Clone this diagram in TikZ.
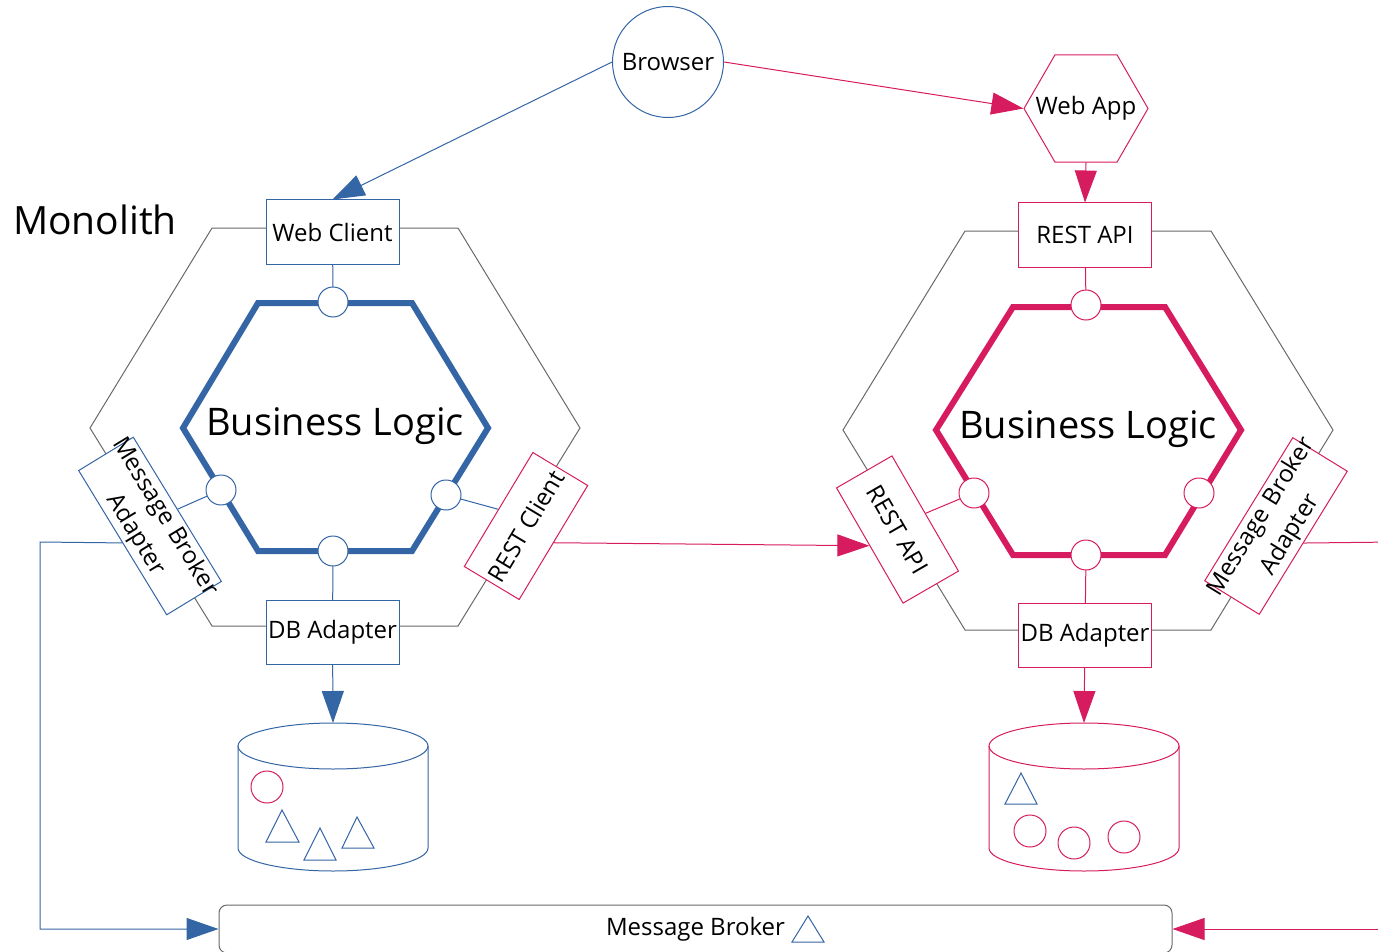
\documentclass[tikz,border=0pt]{standalone}
\usepackage{fontspec}
\setmainfont{Open Sans}
\usetikzlibrary{arrows.meta,shapes.geometric}
\definecolor{cblue}{RGB}{52,101,164}
\definecolor{cpink}{RGB}{214,28,95}
\definecolor{cgray}{RGB}{105,105,105}

\begin{document}
\begin{tikzpicture}[x=1pt, y=-1pt, line cap=round, line width=1pt,
    font={\fontsize{24}{29}\selectfont},
    box/.style={draw, fill=white, minimum width=133pt, minimum height=64pt, inner sep=0pt},
    port/.style={circle, draw, fill=white, minimum size=30pt, inner sep=0pt},
    arr/.style={-{Triangle[length=32pt, width=22pt]}},
    hexout/.style={draw=cgray},
    core/.style={line width=6pt},
    big/.style={font={\fontsize{39}{46}\selectfont}}]
    \useasboundingbox (0,0) rectangle (1378,952);

    % monolith
    \node[big] (mono) at (95,220) {Monolith};
    \draw[hexout] (212,228) -- (458,228) -- (580,428) -- (458,626) -- (212,626) -- (90,428) -- cycle;
    \draw[cblue, core] (258,303) -- (412,303) -- (488,428) -- (412,551) -- (258,551) -- (183,428) -- cycle;
    \node[big, font={\fontsize{38}{46}\selectfont}] (blL) at (335,426) {Business Logic};

    \node[box, draw=cblue] (wcL) at (332.5,232) {Web Client};
    \node[box, draw=cblue] (dbaL) at (332.5,632.5) {DB Adapter};
    \node[box, draw=cblue, rotate=-58.6, text width=169pt, align=center] (mbaL) at (150,526) {\makebox[169pt]{Message Broker}\\[5pt]Adapter};
    \node[box, draw=cpink, rotate=59] (rcL) at (526,526) {REST Client};

    \node[port, draw=cblue] (ptL) at (333,302) {};
    \node[port, draw=cblue] (plL) at (221,490) {};
    \node[port, draw=cblue] (prL) at (446,495) {};
    \node[port, draw=cblue] (pbL) at (333,551) {};

    \draw[cblue] (wcL) -- (ptL);
    \draw[cblue] (plL) -- (mbaL.north);
    \draw[cblue] (prL) -- (rcL.north);
    \draw[cblue] (pbL) -- (dbaL);

    % service
    \draw[hexout] (965,231) -- (1211,231) -- (1333,430) -- (1211,630) -- (965,630) -- (843,430) -- cycle;
    \draw[cpink, core] (1013,307) -- (1165,307) -- (1241,430) -- (1165,555) -- (1013,555) -- (936,430) -- cycle;
    \node[big, font={\fontsize{38}{46}\selectfont}] (blR) at (1088,429) {Business Logic};

    \node[box, draw=cpink] (raT) at (1085,235) {REST API};
    \node[box, draw=cpink] (dbaR) at (1085,635.5) {DB Adapter};
    \node[box, draw=cpink, rotate=-60] (raR) at (897.5,529.5) {REST API};
    \node[box, draw=cpink, rotate=58.4, text width=168pt, align=center] (mbaR) at (1276,526) {\makebox[168pt]{Message Broker}\\[5pt]Adapter};

    \node[port, draw=cpink] (ptR) at (1086,305) {};
    \node[port, draw=cpink] (plR) at (974,493) {};
    \node[port, draw=cpink] (prR) at (1199,493) {};
    \node[port, draw=cpink] (pbR) at (1086,555) {};

    \draw[cpink] (raT) -- (ptR);
    \draw[cpink] (plR) -- (raR.north);
    \draw[cpink] (pbR) -- (dbaR);

    % clients
    \node[circle, draw=cblue, minimum size=111pt, inner sep=0pt] (browser) at (668,62) {Browser};
    \node[regular polygon, regular polygon sides=6, draw=cpink, minimum size=124pt, inner sep=0pt,
          label={center:Web App}] (webapp) at (1086,108.5) {};

    % databases
    \filldraw[cblue, fill=white] (238,746) -- (238,848) arc[start angle=180, end angle=0, x radius=95, y radius=23] -- (428,746);
    \draw[cblue] (333,746) ellipse [x radius=95, y radius=23];
    \coordinate (cylL) at (333,723);
    \draw[cpink] (267,787) circle (16);
    \draw[cblue] (282,810) -- (299,842) -- (266,842) -- cycle;
    \draw[cblue] (320,828) -- (336,860) -- (304,860) -- cycle;
    \draw[cblue] (357,817) -- (374,848) -- (342,848) -- cycle;

    \filldraw[cpink, fill=white] (989,746) -- (989,848) arc[start angle=180, end angle=0, x radius=95, y radius=23] -- (1179,746);
    \draw[cpink] (1084,746) ellipse [x radius=95, y radius=23];
    \coordinate (cylR) at (1084,723);
    \draw[cblue] (1021,773) -- (1037,804) -- (1005,804) -- cycle;
    \draw[cpink] (1030,831) circle (16);
    \draw[cpink] (1074,843) circle (16);
    \draw[cpink] (1124,837) circle (16);

    % broker
    \node[draw=cgray, fill=white, rounded corners=8pt, minimum width=953pt, minimum height=48pt, inner sep=0pt] (broker) at (695.5,929) {Message Broker};
    \draw[cblue] (808,916) -- (824,942) -- (792,942) -- cycle;

    \coordinate (mbTurn) at (40,542);
    \coordinate (offR) at (1395,542);
    \coordinate (inR) at (1395,929);

    % connectors
    \draw[cblue, arr] (browser.west) -- (wcL.north);
    \draw[cpink, arr] (browser.east) -- (webapp.west);
    \draw[cpink, arr] (webapp.south) -- (raT.north);
    \draw[cblue, arr] (dbaL) -- (cylL);
    \draw[cpink, arr] (dbaR) -- (cylR);
    \draw[cpink, arr] (rcL.south) -- (raR.south);
    \draw[cblue, arr] (mbaL.south) -- (mbTurn) |- (broker.west);
    \draw[cpink] (mbaR.south) -- (offR);
    \draw[cpink, arr] (inR) -- (broker.east);
\end{tikzpicture}
\end{document}
